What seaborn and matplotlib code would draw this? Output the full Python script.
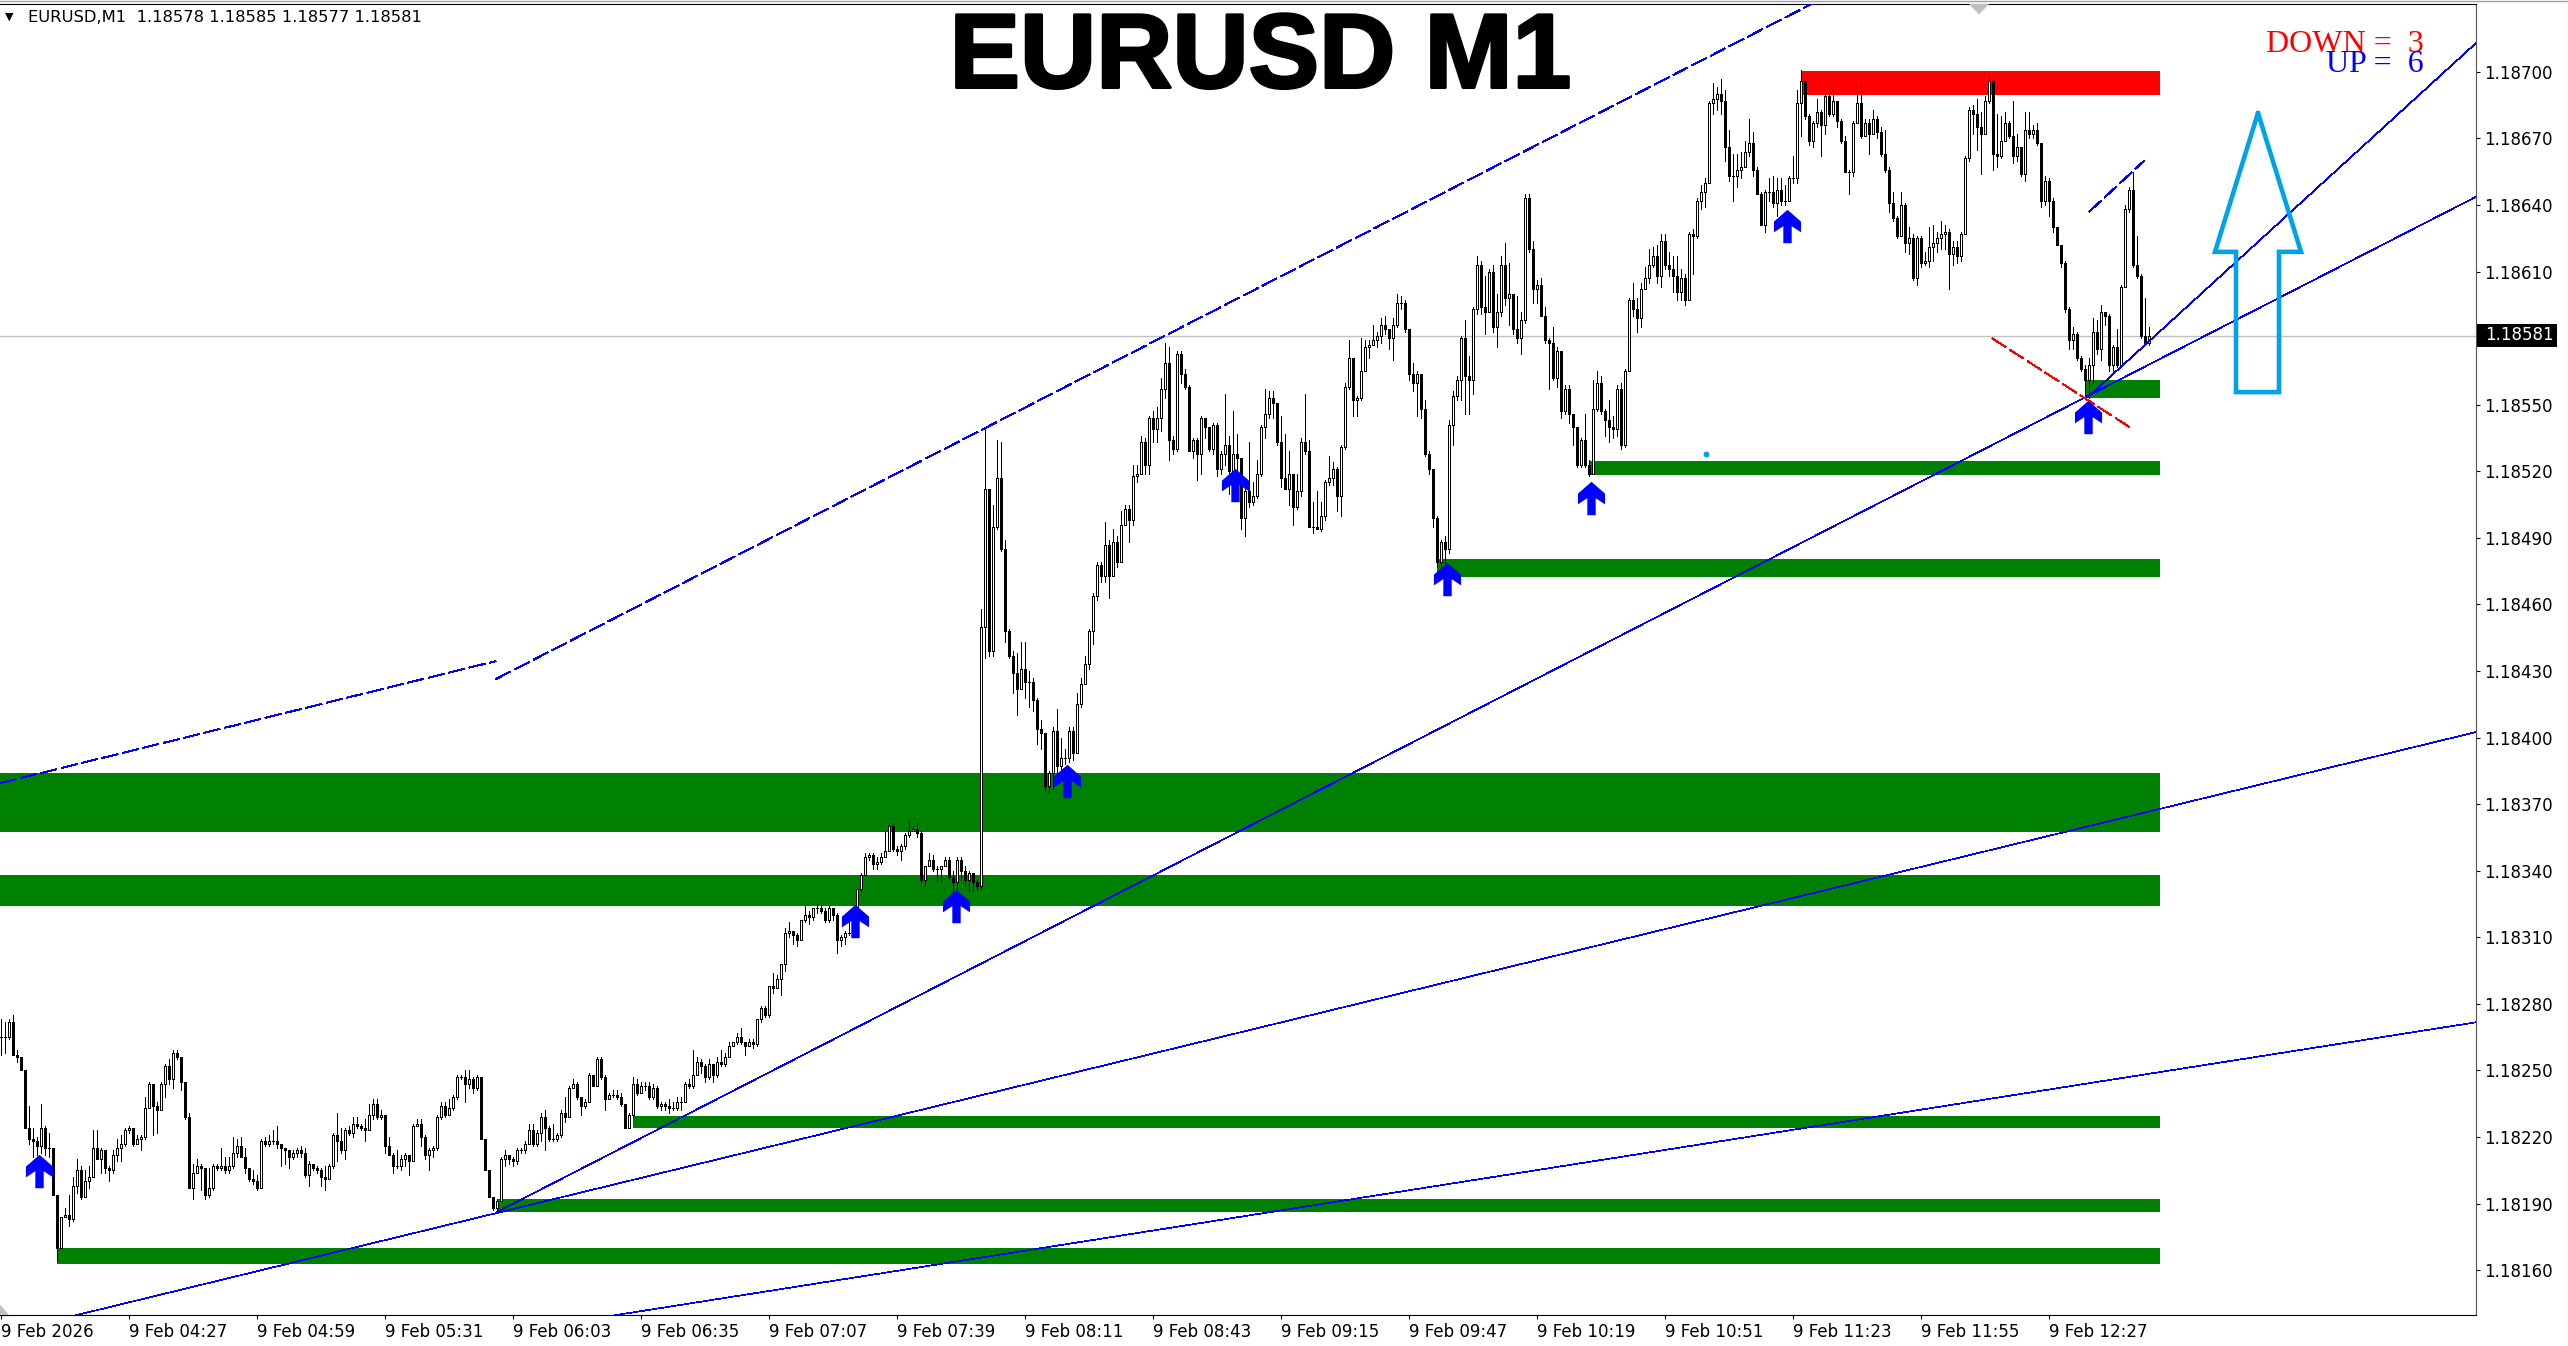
import matplotlib
matplotlib.use("Agg")
import matplotlib.pyplot as plt
import matplotlib.patheffects as pe
import numpy as np
import pandas as pd
import seaborn as sns
from matplotlib.path import Path

# all prices below are in points above 1.18000 (1 point = 0.00001)
BASE = 1.18

closes = [
    265, 265, 272, 257, 256, 250, 224, 219, 218, 216,
    224, 215, 215, 194, 170, 184, 185, 183, 198, 205,
    193, 200, 202, 215, 210, 214, 206, 205, 212, 215,
    217, 223, 224, 217, 219, 220, 233, 244, 234, 232,
    244, 252, 246, 258, 256, 245, 229, 197, 204, 207,
    206, 194, 197, 207, 206, 207, 205, 207, 213, 216,
    211, 206, 201, 200, 197, 218, 217, 218, 218, 217,
    215, 214, 211, 213, 214, 213, 203, 208, 206, 205,
    202, 201, 207, 221, 218, 214, 223, 222, 226, 225,
    224, 223, 230, 235, 229, 230, 216, 212, 207, 207,
    210, 212, 209, 225, 226, 220, 212, 214, 215, 229,
    234, 230, 233, 238, 247, 247, 244, 246, 242, 247,
    219, 205, 193, 188, 191, 210, 212, 210, 209, 214,
    214, 217, 223, 217, 222, 229, 224, 219, 219, 221,
    231, 229, 242, 244, 238, 234, 236, 248, 243, 255,
    247, 237, 239, 239, 238, 235, 224, 230, 244, 240,
    243, 243, 238, 242, 234, 235, 234, 233, 233, 236,
    236, 244, 243, 248, 254, 252, 247, 253, 248, 254,
    253, 256, 261, 263, 265, 263, 261, 263, 262, 273,
    278, 275, 288, 287, 291, 298, 312, 313, 311, 309,
    318, 320, 319, 323, 323, 322, 318, 323, 320, 309,
    310, 312, 312, 316, 332, 338, 346, 347, 343, 344,
    346, 349, 360, 350, 349, 351, 356, 358, 359, 357,
    336, 342, 345, 341, 341, 342, 345, 337, 335, 345,
    340, 336, 339, 335, 333, 450, 512, 439, 495, 517,
    485, 448, 437, 429, 422, 431, 425, 425, 417, 404,
    402, 378, 384, 403, 387, 391, 391, 403, 393, 415,
    424, 433, 448, 464, 478, 473, 487, 473, 488, 479,
    496, 503, 498, 518, 519, 533, 523, 544, 539, 544,
    557, 569, 534, 530, 573, 564, 558, 529, 534, 528,
    544, 540, 530, 541, 521, 528, 532, 520, 528, 526,
    499, 511, 506, 509, 519, 540, 546, 553, 551, 533,
    517, 512, 519, 504, 511, 533, 529, 495, 495, 494,
    500, 515, 517, 521, 509, 531, 558, 571, 552, 553,
    565, 576, 577, 579, 581, 586, 584, 580, 586, 596,
    596, 584, 564, 560, 564, 548, 528, 521, 499, 479,
    488, 485, 541, 554, 561, 580, 563, 561, 593, 613,
    594, 592, 610, 585, 592, 613, 598, 600, 584, 580,
    588, 643, 620, 602, 604, 590, 579, 578, 562, 574,
    547, 557, 546, 540, 523, 534, 523, 519, 548, 560,
    547, 543, 540, 539, 557, 532, 565, 597, 593, 589,
    602, 607, 613, 617, 608, 624, 613, 611, 608, 601,
    607, 597, 627, 626, 642, 646, 650, 686, 688, 690,
    687, 666, 653, 653, 656, 657, 664, 668, 656, 645,
    631, 646, 646, 641, 647, 642, 642, 652, 652, 686,
    696, 680, 669, 677, 682, 676, 689, 681, 687, 678,
    669, 655, 655, 677, 686, 671, 677, 672, 679, 673,
    663, 656, 641, 634, 626, 640, 623, 625, 607, 625,
    614, 615, 621, 623, 625, 627, 628, 618, 621, 617,
    627, 661, 683, 681, 675, 672, 687, 696, 663, 662,
    669, 677, 671, 662, 666, 654, 674, 672, 674, 668,
    642, 651, 642, 630, 622, 614, 593, 579, 582, 571,
    566, 561, 568, 583, 575, 592, 590, 568, 576, 568,
    603, 638, 647, 613, 608, 581, 578, 581,
]
highs = [
    273, 272, 273, 275, 259, 256, 250, 234, 224, 220,
    235, 225, 222, 215, 194, 184, 188, 194, 202, 210,
    207, 205, 207, 223, 223, 215, 214, 207, 214, 219,
    221, 224, 225, 224, 221, 221, 238, 245, 244, 236,
    245, 253, 255, 259, 259, 256, 245, 231, 208, 210,
    208, 206, 206, 208, 208, 215, 211, 211, 220, 219,
    220, 215, 206, 205, 203, 219, 220, 221, 223, 225,
    217, 215, 214, 214, 215, 216, 215, 209, 208, 207,
    206, 207, 208, 222, 231, 224, 224, 225, 229, 229,
    226, 228, 235, 237, 237, 232, 230, 220, 213, 214,
    212, 213, 212, 226, 228, 228, 221, 215, 216, 230,
    236, 236, 237, 239, 248, 248, 250, 250, 247, 248,
    247, 219, 205, 193, 192, 211, 214, 212, 211, 215,
    215, 218, 226, 226, 223, 231, 232, 225, 226, 222,
    232, 238, 243, 246, 245, 238, 237, 249, 248, 256,
    256, 248, 240, 241, 241, 240, 235, 231, 247, 246,
    245, 245, 245, 244, 243, 236, 236, 237, 236, 238,
    238, 245, 246, 259, 256, 255, 253, 255, 252, 256,
    259, 258, 263, 263, 267, 269, 263, 264, 264, 273,
    279, 279, 288, 294, 293, 298, 314, 317, 313, 312,
    318, 324, 322, 323, 325, 324, 323, 324, 323, 321,
    311, 313, 320, 317, 332, 339, 348, 348, 348, 346,
    348, 358, 361, 361, 351, 352, 357, 363, 360, 362,
    358, 342, 348, 347, 342, 342, 346, 346, 340, 346,
    346, 342, 340, 338, 336, 458, 539, 511, 505, 534,
    533, 489, 449, 439, 438, 443, 443, 430, 427, 418,
    408, 402, 385, 405, 413, 400, 395, 405, 405, 420,
    427, 437, 449, 465, 479, 479, 497, 489, 494, 491,
    502, 505, 505, 523, 523, 536, 535, 545, 547, 549,
    562, 578, 576, 536, 574, 574, 566, 559, 535, 535,
    545, 544, 538, 542, 542, 529, 555, 536, 547, 537,
    524, 516, 533, 515, 525, 541, 557, 556, 556, 550,
    545, 537, 529, 519, 519, 535, 555, 534, 506, 511,
    506, 516, 527, 524, 522, 532, 560, 579, 568, 554,
    580, 579, 579, 586, 583, 589, 590, 584, 589, 600,
    599, 597, 584, 569, 565, 563, 552, 529, 520, 500,
    489, 491, 543, 556, 563, 581, 588, 572, 594, 617,
    615, 608, 611, 613, 600, 617, 623, 614, 592, 599,
    592, 645, 645, 624, 606, 607, 594, 580, 585, 576,
    574, 559, 559, 546, 538, 535, 546, 525, 561, 565,
    563, 548, 552, 545, 559, 560, 566, 598, 605, 598,
    605, 612, 620, 621, 622, 627, 627, 619, 617, 617,
    611, 609, 628, 629, 643, 649, 652, 687, 695, 693,
    697, 692, 674, 663, 663, 664, 669, 679, 673, 657,
    646, 647, 652, 653, 652, 652, 649, 653, 662, 692,
    701, 697, 681, 678, 688, 683, 690, 694, 693, 687,
    679, 671, 656, 678, 691, 695, 679, 679, 683, 680,
    675, 674, 657, 646, 635, 646, 641, 630, 627, 626,
    626, 619, 630, 631, 628, 633, 631, 629, 624, 624,
    628, 662, 684, 685, 688, 682, 689, 698, 697, 681,
    680, 682, 678, 687, 672, 665, 682, 682, 676, 677,
    665, 653, 652, 643, 630, 622, 615, 594, 585, 583,
    572, 568, 571, 589, 588, 595, 592, 591, 577, 584,
    604, 640, 648, 655, 626, 609, 598, 585,
]
lows = [
    257, 258, 264, 257, 254, 250, 224, 217, 211, 212,
    213, 212, 211, 194, 164, 170, 184, 180, 182, 195,
    192, 193, 197, 202, 210, 204, 204, 200, 204, 209,
    209, 216, 222, 216, 218, 214, 219, 233, 221, 222,
    232, 238, 244, 242, 255, 241, 228, 197, 192, 205,
    196, 192, 193, 196, 205, 205, 204, 204, 206, 211,
    211, 204, 200, 199, 196, 197, 216, 216, 217, 215,
    207, 208, 206, 210, 211, 211, 202, 198, 205, 204,
    198, 196, 201, 206, 209, 213, 210, 221, 220, 224,
    223, 218, 223, 228, 228, 228, 213, 212, 204, 206,
    205, 207, 203, 209, 225, 216, 210, 205, 211, 214,
    228, 229, 232, 232, 237, 246, 236, 242, 240, 241,
    219, 205, 193, 187, 187, 192, 207, 208, 207, 208,
    213, 213, 218, 216, 216, 218, 214, 218, 218, 218,
    220, 227, 229, 242, 237, 230, 233, 236, 243, 243,
    246, 232, 237, 238, 237, 234, 224, 224, 229, 239,
    240, 241, 237, 237, 233, 232, 232, 231, 232, 232,
    232, 236, 242, 242, 248, 249, 245, 246, 245, 247,
    252, 252, 259, 261, 262, 262, 257, 261, 260, 261,
    272, 274, 274, 285, 287, 284, 295, 310, 307, 306,
    309, 317, 316, 318, 321, 321, 317, 317, 318, 303,
    306, 307, 311, 312, 312, 331, 338, 345, 341, 341,
    343, 347, 349, 349, 347, 345, 350, 355, 358, 355,
    335, 333, 342, 340, 335, 335, 342, 336, 331, 332,
    336, 333, 331, 331, 331, 332, 436, 437, 437, 494,
    484, 443, 436, 420, 410, 422, 418, 414, 412, 397,
    395, 376, 375, 377, 380, 386, 388, 389, 390, 393,
    414, 424, 431, 442, 462, 470, 470, 463, 473, 477,
    483, 496, 488, 496, 515, 520, 519, 519, 533, 533,
    538, 553, 525, 528, 529, 560, 557, 529, 526, 516,
    519, 535, 529, 528, 518, 519, 523, 510, 515, 520,
    494, 491, 504, 505, 508, 518, 535, 544, 544, 532,
    513, 512, 505, 496, 503, 509, 528, 495, 492, 494,
    493, 498, 514, 514, 502, 500, 530, 557, 545, 545,
    552, 565, 571, 577, 576, 578, 582, 575, 570, 585,
    593, 583, 561, 556, 545, 544, 527, 519, 495, 477,
    473, 475, 483, 532, 552, 552, 546, 546, 555, 591,
    591, 582, 592, 583, 576, 590, 595, 586, 582, 578,
    573, 587, 619, 596, 596, 590, 578, 557, 561, 558,
    544, 546, 542, 532, 522, 522, 522, 518, 519, 547,
    546, 536, 533, 535, 536, 530, 531, 565, 590, 583,
    585, 602, 605, 612, 605, 603, 611, 608, 601, 597,
    597, 595, 597, 609, 625, 638, 639, 650, 681, 683,
    681, 660, 651, 642, 648, 652, 660, 662, 653, 645,
    631, 628, 642, 639, 635, 640, 640, 642, 650, 650,
    671, 679, 667, 666, 675, 662, 672, 680, 680, 675,
    668, 655, 645, 653, 677, 670, 671, 663, 672, 670,
    662, 655, 637, 633, 625, 628, 619, 618, 606, 604,
    612, 613, 612, 615, 619, 620, 620, 602, 613, 614,
    615, 627, 660, 672, 665, 654, 673, 686, 656, 657,
    661, 670, 670, 659, 660, 653, 651, 670, 670, 667,
    639, 640, 635, 628, 622, 612, 592, 575, 575, 570,
    565, 553, 553, 560, 573, 570, 586, 565, 565, 567,
    574, 603, 637, 612, 607, 580, 577, 577,
]

# support / resistance zones: start bar, bottom, top
zone_starts = [-1, -1, 14, 124, 158, 359, 397, 521]
zone_bottoms = [357.4, 324, 163, 186, 224, 472.3, 518.3, 553]
zone_tops = [384, 338, 170, 192, 229.4, 480.5, 524.6, 561.2]
red_zone = [450, 689.6, 700.5]
ZONE_END = 539.8

# trend lines: bar0, price0, bar1, price1
solid_lines = [
    (18.75, 139.7, 618.75, 402.5),
    (123.75, 186, 618.75, 643.7),
    (153.5, 139.7, 618.75, 271.7),
    (521.75, 553.5, 618.75, 713),
]
dashed_lines = [
    (-0.25, 379.5, 123.75, 434.5),
    (123.75, 426.4, 452.75, 730.7),
    (522, 636.9, 535.75, 659.9),
]
red_dashed = (497.75, 580, 532.5, 539.5)

arrow_bars = [9.5, 213.5, 238.75, 266.5, 308.5, 361.5, 397.5, 446.5, 521.75]
arrow_prices = [204.8, 317.5, 324.3, 380.6, 514, 471.7, 508.2, 630.4, 544.7]

big_arrow_bars = [564.25, 575, 569.5, 569.5, 558.75, 558.75, 553.5, 564.25]
big_arrow_prices = [681.5, 618.9, 618.9, 555.7, 555.7, 618.9, 618.9, 681.5]

y_tick_points = [160, 190, 220, 250, 280, 310, 340, 370, 400, 430, 460, 490, 520, 550, 580, 610, 640, 670, 700]
x_tick_bars = [0, 32, 64, 96, 128, 160, 192, 224, 256, 288, 320, 352, 384, 416, 448, 480, 512]
x_tick_labels = [
    "9 Feb 2026", "9 Feb 04:27", "9 Feb 04:59", "9 Feb 05:31", "9 Feb 06:03", "9 Feb 06:35",
    "9 Feb 07:07", "9 Feb 07:39", "9 Feb 08:11", "9 Feb 08:43", "9 Feb 09:15", "9 Feb 09:47",
    "9 Feb 10:19", "9 Feb 10:51", "9 Feb 11:23", "9 Feb 11:55", "9 Feb 12:27",
]
last_price = 581

W, H = 2568, 1346
UI_FONT = "DejaVu Sans"
UI_SIZE = 12
BLUE = "#0000ff"
GREEN = "#008000"
SKY = "#00a2e8"
LINE_W = 0.5


def pr(points):
    return BASE + np.asarray(points, dtype=float) / 1e5


def main():
    sns.set_theme(style="white")
    plt.rcParams["font.family"] = [UI_FONT]

    fig = plt.figure(figsize=(W / 100, H / 100), dpi=100, facecolor="white")
    ax = fig.add_axes([0, 1 - 1315 / H, 2476 / W, (1315 - 4) / H])
    ax.set_xlim(-0.25, 618.75)
    ax.set_ylim(pr(139.8), pr(730.6))

    frame = pd.DataFrame({"bar": np.arange(len(closes)), "close": closes, "high": highs, "low": lows})
    frame["open"] = frame["close"].shift(1).fillna(frame["close"])
    frame["top"] = frame[["open", "close"]].max(axis=1)
    frame["bottom"] = frame[["open", "close"]].min(axis=1)
    frame["high"] = frame[["high", "top"]].max(axis=1)
    frame["low"] = frame[["low", "bottom"]].min(axis=1)
    up = frame["close"] >= frame["open"]

    ax.axhline(pr(last_price), color="#c0c0c0", lw=1.0, zorder=1)

    for start, bottom, top in zip(zone_starts, zone_bottoms, zone_tops):
        ax.fill_between([start, ZONE_END], pr(bottom), pr(top), color=GREEN, lw=0, zorder=2)
    ax.fill_between([red_zone[0], ZONE_END], pr(red_zone[1]), pr(red_zone[2]), color="#ff0000", lw=0, zorder=2)

    ax.vlines(frame["bar"], pr(frame["low"]), pr(frame["high"]), color="black", lw=0.72, zorder=3, antialiased=False)
    ax.bar(frame["bar"][up], pr(frame["top"][up]) - pr(frame["bottom"][up]), bottom=pr(frame["bottom"][up]),
           width=0.5, facecolor="white", edgecolor="black", linewidth=0.72, zorder=4, antialiased=False)
    ax.bar(frame["bar"][~up], pr(frame["top"][~up]) - pr(frame["bottom"][~up]), bottom=pr(frame["bottom"][~up]),
           width=0.5, facecolor="black", edgecolor="black", linewidth=0.72, zorder=4, antialiased=False)

    for x0, y0, x1, y1 in solid_lines:
        sns.lineplot(x=[x0, x1], y=pr([y0, y1]), color=BLUE, lw=LINE_W, estimator=None, sort=False, ax=ax, zorder=5,
                     antialiased=False)
    for x0, y0, x1, y1 in dashed_lines:
        sns.lineplot(x=[x0, x1], y=pr([y0, y1]), color=BLUE, lw=LINE_W, estimator=None, sort=False, ax=ax, zorder=5,
                     linestyle=(0, (24, 7)), antialiased=False)
    x0, y0, x1, y1 = red_dashed
    sns.lineplot(x=[x0, x1], y=pr([y0, y1]), color="#ff0000", lw=LINE_W, estimator=None, sort=False, ax=ax, zorder=5,
                 linestyle=(0, (24, 7)), antialiased=False)

    ax.plot(big_arrow_bars, pr(big_arrow_prices), color=SKY, lw=3.3, solid_joinstyle="miter", zorder=6)

    arrow_verts = [(0, 1), (-0.81, 0.29), (-0.81, -0.35), (-0.25, 0.02), (-0.25, -1), (0.25, -1), (0.25, 0.02),
                   (0.81, -0.35), (0.81, 0.29), (0, 1)]
    arrow_marker = Path(arrow_verts, closed=True)
    sns.scatterplot(x=arrow_bars, y=pr(arrow_prices), marker=arrow_marker, s=580, color=BLUE, linewidth=0,
                    ax=ax, zorder=7, legend=False)
    sns.scatterplot(x=[426.25], y=pr([527.8]), s=18, color=SKY, linewidth=0, ax=ax, zorder=7, legend=False)

    # axes furniture
    ax.spines["left"].set_visible(False)
    for side in ["top", "right", "bottom"]:
        ax.spines[side].set_visible(True)
        ax.spines[side].set_color("black")
        ax.spines[side].set_linewidth(0.8)
    ax.spines["right"].set_color("#555555")

    ax.yaxis.tick_right()
    ax.set_yticks(pr(y_tick_points))
    ax.set_yticklabels([f"{BASE + p / 1e5:.5f}" for p in y_tick_points], fontsize=UI_SIZE, color="black")
    ax.set_xticks(x_tick_bars)
    ax.set_xticklabels(x_tick_labels, fontsize=UI_SIZE, color="black", ha="left")
    ax.tick_params(axis="x", length=3, width=0.8, pad=3, bottom=True, color="black")
    ax.tick_params(axis="y", length=3, width=0.8, pad=3, right=True, color="black")
    ax.set_xlabel("")
    ax.set_ylabel("")

    # triangle marks on the chart edges
    ax.fill([-0.25, 2, -0.25], pr([139.8, 139.8, 144.5]), color="#c0c0c0", lw=0, zorder=8)
    ax.fill([492, 497, 494.5], pr([730.6, 730.6, 725.8]), color="#c0c0c0", lw=0, zorder=8)

    fig.text(9 / W, 1 - 17 / H, "\u25bc", fontsize=8, family="DejaVu Sans", ha="center", va="center", color="black")
    fig.text(28 / W, 1 - 18 / H, "EURUSD,M1  1.18578 1.18585 1.18577 1.18581", fontsize=11.8, ha="left",
             va="center", color="black")
    fig.text(1260 / W, 1 - 60 / H, "EURUSD M1", fontsize=76, fontweight="bold", family="Liberation Sans",
             ha="center", va="center", color="black",
             path_effects=[pe.withStroke(linewidth=2.2, foreground="black")])
    fig.text(2424 / W, 1 - 45 / H, "DOWN =  3", fontsize=23, family="Liberation Serif", ha="right", va="center",
             color="#ff0000")
    fig.text(2424 / W, 1 - 64 / H, "UP =  6", fontsize=23, family="Liberation Serif", ha="right", va="center",
             color=BLUE)

    # current price box
    fig.patches.append(plt.Rectangle((2477 / W, 1 - 347 / H), 80 / W, 23 / H, transform=fig.transFigure,
                                     facecolor="black", edgecolor="none", zorder=5))
    fig.text(2485 / W, 1 - 335.5 / H, f"{BASE + last_price / 1e5:.5f}", fontsize=UI_SIZE, color="white", ha="left",
             va="center", zorder=6)

    # window chrome
    fig.add_artist(plt.Line2D([0, 1], [1 - 0.5 / H, 1 - 0.5 / H], color="#a0a0a0", lw=1))
    fig.add_artist(plt.Line2D([1 - 0.5 / W, 1 - 0.5 / W], [0, 1], color="#e0e0e0", lw=1))

    fig.savefig("out.png", dpi=100, facecolor="white")
    plt.close(fig)


if __name__ == "__main__":
    assert len(closes) == len(highs) == len(lows) == 538
    main()
